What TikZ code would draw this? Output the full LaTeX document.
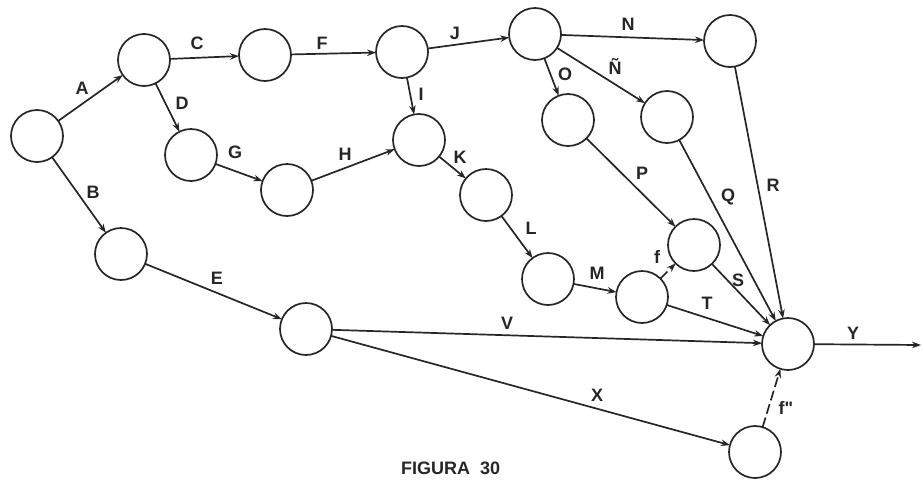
\documentclass[tikz,border=0pt]{standalone}
\usepackage{fontspec}
\setmainfont{Liberation Sans}
\usetikzlibrary{arrows.meta}
\tikzset{
  ev/.style={circle,draw=black!85,line width=1.7pt,minimum size=52pt,inner sep=0pt,outer sep=0pt},
  act/.style={draw=black!85,line width=1.7pt,-{Stealth[length=9pt,width=6.5pt]}},
  dummy/.style={act,dash pattern=on 10pt off 4pt},
  lab/.style={font=\fontsize{18}{18}\selectfont\bfseries,text=black!85,inner sep=0pt}
}
\begin{document}
\begin{tikzpicture}[x=1pt,y=-1pt]
\useasboundingbox (0,0) rectangle (922,480);
% events
\node[ev] (n1) at (37,136) {};
\node[ev] (n2) at (144,60) {};
\node[ev] (n3) at (265,55) {};
\node[ev] (n4) at (402,52) {};
\node[ev] (n5) at (535,34) {};
\node[ev] (n6) at (730,41) {};
\node[ev] (n7) at (191,155) {};
\node[ev] (n8) at (287,190) {};
\node[ev] (n9) at (419,140) {};
\node[ev] (n10) at (568,120) {};
\node[ev] (n11) at (667,117) {};
\node[ev] (n12) at (486,195) {};
\node[ev] (n13) at (121,254) {};
\node[ev] (n14) at (548,279) {};
\node[ev] (n15) at (694,245) {};
\node[ev] (n16) at (642,297) {};
\node[ev] (n17) at (306,329) {};
\node[ev] (n18) at (788,344) {};
\node[ev] (n19) at (755,452) {};
\coordinate (yend) at (921,345);
% activities
\draw[act] (n1) -- (n2);
\draw[act] (n1) -- (n13);
\draw[act] (n2) -- (n3);
\draw[act] (n2) -- (n7);
\draw[act] (n3) -- (n4);
\draw[act] (n7) -- (n8);
\draw[act] (n8) -- (n9);
\draw[act] (n4) -- (n9);
\draw[act] (n4) -- (n5);
\draw[act] (n9) -- (n12);
\draw[act] (n12) -- (n14);
\draw[act] (n14) -- (n16);
\draw[dummy] (n16) -- (n15);
\draw[act] (n5) -- (n6);
\draw[act] (n5) -- (n10);
\draw[act] (n5) -- (n11);
\draw[act] (n10) -- (n15);
\draw[act] (n11) -- (n18);
\draw[act] (n6) -- (n18);
\draw[act] (n15) -- (n18);
\draw[act] (n16) -- (n18);
\draw[act] (n13) -- (n17);
\draw[act] (n17) -- (n18);
\draw[act] (n17) -- (n19);
\draw[dummy] (n19) -- (n18);
\draw[act] (n18) -- (yend);
% labels
\node[lab] (lA) at (82,88) {A};
\node[lab] (lB) at (93,192) {B};
\node[lab] (lC) at (197,43) {C};
\node[lab] (lD) at (182,103) {D};
\node[lab] (lE) at (217,278) {E};
\node[lab] (lF) at (322,43) {F};
\node[lab] (lG) at (235,152) {G};
\node[lab] (lH) at (345,154) {H};
\node[lab] (lI) at (421,94) {I};
\node[lab] (lJ) at (455,33) {J};
\node[lab] (lK) at (460,157) {K};
\node[lab] (lL) at (531,228) {L};
\node[lab] (lM) at (597,273) {M};
\node[lab] (lf) at (657,257) {f};
\node[lab] (lN) at (628,24) {N};
\node[lab] (lO) at (565,74) {O};
\node[lab] (lNt) at (615,66) {Ñ};
\node[lab] (lP) at (642,173) {P};
\node[lab] (lQ) at (728,197) {Q};
\node[lab] (lR) at (773,185) {R};
\node[lab] (lS) at (738,280) {S};
\node[lab] (lT) at (707,303) {T};
\node[lab] (lV) at (507,323) {V};
\node[lab] (lX) at (597,395) {X};
\node[lab] (lf2) at (786,408) {f\textquotedbl};
\node[lab] (lY) at (853,333) {Y};
\node[lab,anchor=south west] (cap) at (401,475) {FIGURA\ \ 30};
\end{tikzpicture}
\end{document}
